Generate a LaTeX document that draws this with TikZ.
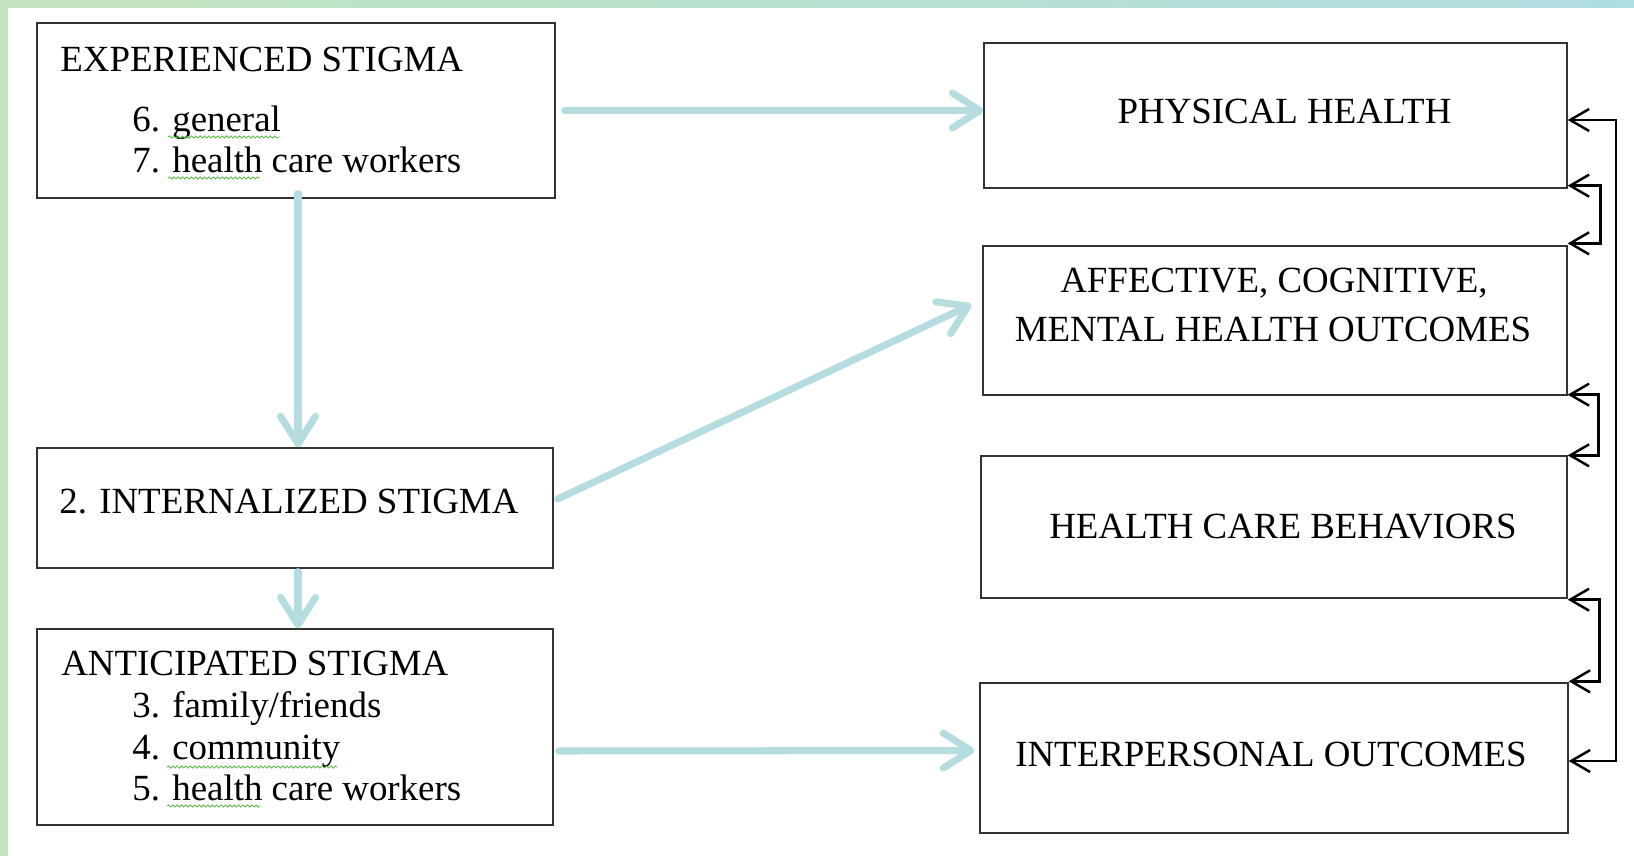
\documentclass[tikz,border=0pt]{standalone}
\usepackage{fontspec}
\setmainfont{Liberation Serif}
\usetikzlibrary{arrows.meta,calc,decorations.pathmorphing}

\definecolor{flowteal}{HTML}{B5DCDF}
\definecolor{stripgreen}{HTML}{C3E4BE}
\definecolor{stripmist}{HTML}{E9FBFB}
\definecolor{stripcyan}{HTML}{AEDDE2}
\definecolor{spellgreen}{HTML}{5DBB4A}

\tikzset{
  box/.style 2 args={draw=black!80, line width=0.75pt, inner sep=0pt,
    minimum width=#1*0.02cm, minimum height=#2*0.02cm},
  lbl/.style={anchor=base west, inner sep=0pt, font=\fontsize{21}{25}\selectfont},
  clbl/.style={anchor=base, inner sep=0pt, font=\fontsize{21}{25}\selectfont},
  flow/.style={draw=flowteal, line width=4pt, line cap=round,
    -{Straight Barb[length=0.55cm,width=0.7cm,round]}},
  link/.style={draw=black, line width=1.4pt,
    {Straight Barb[length=0.38cm,width=0.44cm]}-{Straight Barb[length=0.38cm,width=0.44cm]}},
  squiggle/.style={draw=spellgreen, line width=0.5pt, decorate,
    decoration={snake, amplitude=0.6pt, segment length=2.5pt}}
}

\begin{document}
\begin{tikzpicture}[x=0.02cm, y=-0.02cm]
  \useasboundingbox (0,0) rectangle (1634,856);
  % background strips
  \fill[white] (0,0) rectangle (1634,856);
  \fill[stripgreen] (0,0) rectangle (8,856);
  \shade[left color=stripgreen, middle color=stripmist, right color=stripcyan] (0,0) rectangle (1634,7);

  % stigma boxes
  \node[box={518}{175}] (exp) at (296,110.5) {};
  \node[box={516}{120}] (int) at (295,508) {};
  \node[box={516}{196}] (ant) at (295,727) {};
  % outcome boxes
  \node[box={583}{145}] (phys) at (1275.5,115.5) {};
  \node[box={584}{149}] (aff) at (1275,320.5) {};
  \node[box={586}{142}] (beh) at (1274,527) {};
  \node[box={588}{150}] (inter) at (1274,758) {};

  \node[lbl] (expT) at (60,71) {EXPERIENCED STIGMA};
  \node[lbl] (exp6) at (132,131) {6. general};
  \node[lbl] (exp7) at (132,172) {7. health care workers};
  \node[lbl] (intT) at (59,513) {2. INTERNALIZED STIGMA};
  \node[lbl] (antT) at (61,675) {ANTICIPATED STIGMA};
  \node[lbl] (ant3) at (132,717) {3. family/friends};
  \node[lbl] (ant4) at (132,759) {4. community};
  \node[lbl] (ant5) at (132,800) {5. health care workers};

  \node[clbl] (physT) at (1284.5,123.5) {PHYSICAL HEALTH};
  \node[clbl] (affT1) at (1274,292) {AFFECTIVE, COGNITIVE,};
  \node[clbl] (affT2) at (1273,341) {MENTAL HEALTH OUTCOMES};
  \node[clbl] (behT) at (1283,538) {HEALTH CARE BEHAVIORS};
  \node[clbl] (interT) at (1271,766.5) {INTERPERSONAL OUTCOMES};

  % spell check marks
  \draw[squiggle] (168,137) -- (280,137);
  \draw[squiggle] (168,178) -- (260,178);
  \draw[squiggle] (167,767) -- (337,767);
  \draw[squiggle] (167,806) -- (260,806);

  % pathways
  \draw[flow, shorten <=0.18cm] (exp.east) -- (exp.east -| phys.west);
  \draw[flow] ($(exp.south)+(2,-5)$) -- ($(int.north)+(3,0)$);
  \draw[flow] ($(int.south)+(3,3)$) -- ($(ant.north)+(3,0)$);
  \draw[flow] ($(int.east)+(4,-9)$) -- ($(aff.west)+(-11,-16)$);
  \draw[flow] ($(ant.east)+(5,24)$) -- ($(inter.west)+(-5,-7.5)$);

  % links between outcomes
  \coordinate (spine) at (1616,0);
  \draw[link] ($(phys.east)+(0,4.5)$) -| ($(inter.east -| spine)+(0,3)$) -- ($(inter.east)+(0,3)$);
  \draw[link] ($(phys.south east)+(0,-3)$) -- ++(33,0) |- ($(aff.north east)+(0,-2)$);
  \draw[link] ($(aff.south east)+(0,-1)$) -- ++(31,0) |- (beh.north east);
  \draw[link] ($(beh.south east)+(0,1)$) -- ++(32,0) |- ($(inter.north east)+(0,-1)$);
\end{tikzpicture}
\end{document}
